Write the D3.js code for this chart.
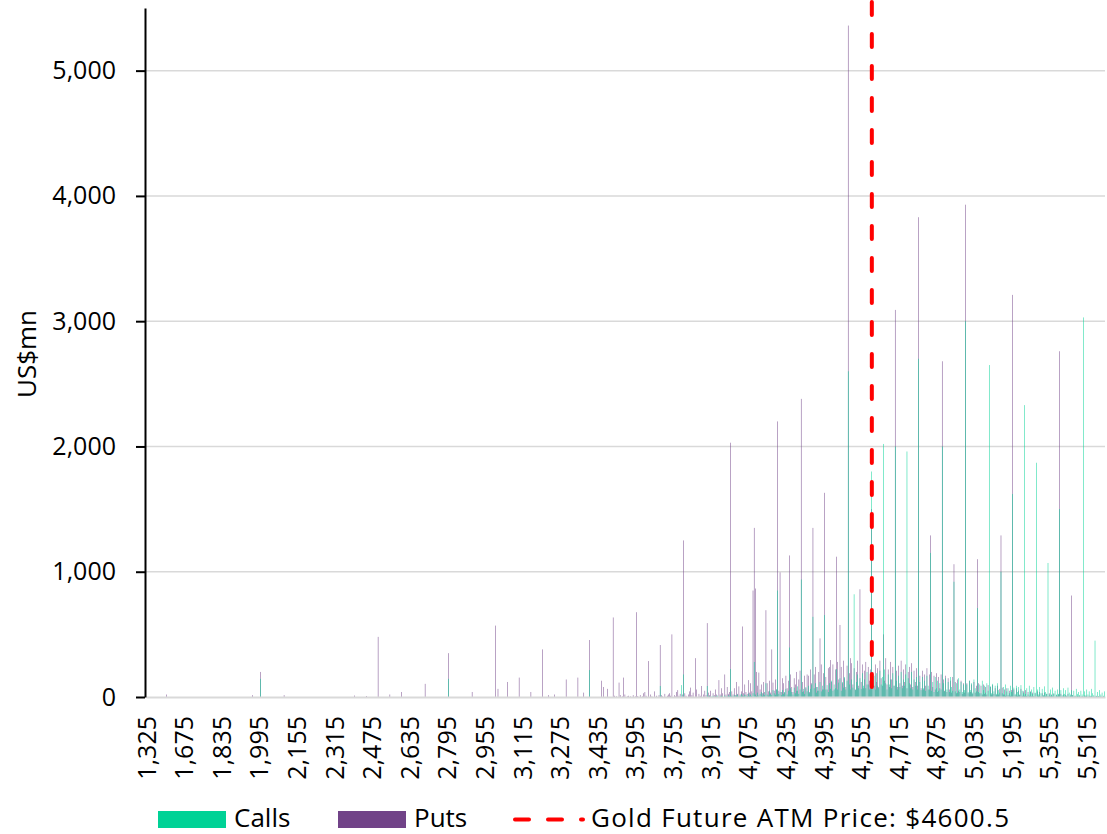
<!DOCTYPE html>
<html><head><meta charset="utf-8">
<script src="https://cdn.jsdelivr.net/npm/d3@7"></script>
<style>
body{margin:0;background:#fff;}
svg text{font-family:"Open Sans","Noto Sans",sans-serif;fill:#000;}
</style></head><body><svg id="c" width="1107" height="834"></svg>
<script>
// strikes (categories)
const lowStrikes = [1325,1350,1375,1400,1425,1450,1475,1500,1510,1520,1525,1550,1560,1570,1575,1580,1590,1600,1605,1610,1615,1620,1625,1630,1635,1640,1645,1650,1655,1660,1665,1670];
const gridStart = 1675, gridEnd = 5590, strikeStep = 5;
const strikes = lowStrikes.concat(d3.range(gridStart, gridEnd + 1, strikeStep));

// small values (US$mn) per 5-strike
const putsBaseStart = 3500;
const putsBase = [
0,10,0,5,0,8,15,0,5,0,20,0,5,10,0,5,0,15,0,5,
0,8,0,15,0,5,30,0,10,0,15,0,20,5,0,35,0,10,0,15,
0,15,5,0,25,0,10,20,0,10,30,0,15,5,40,0,10,25,0,20,
0,30,10,0,20,45,0,15,35,0,20,60,0,25,10,40,0,20,50,15,
0,35,15,50,0,25,15,60,20,0,40,20,70,30,0,45,20,80,25,40,
0,45,20,70,15,50,25,85,20,45,70,30,100,40,25,75,35,110,45,30,
0,55,25,90,30,60,100,30,120,40,70,110,45,130,35,80,115,50,140,60,
0,50,120,40,150,60,35,170,70,130,45,180,80,40,150,90,200,50,140,210,
0,120,45,170,70,200,90,40,220,110,60,180,240,80,50,210,100,260,60,190,
0,160,60,230,90,200,120,260,60,220,100,280,140,70,240,110,290,150,80,250,
0,190,80,270,100,230,60,200,290,90,220,120,260,70,210,280,100,240,130,220,
0,200,90,260,120,230,80,290,150,90,250,130,310,100,220,80,280,140,240,90,
0,210,80,250,110,290,90,220,120,260,70,200,240,100,270,80,210,120,230,90,
0,170,70,210,60,180,90,230,60,180,50,200,80,170,60,190,40,160,70,180,
0,140,50,170,40,150,60,130,35,160,45,120,30,140,50,40,130,25,110,35,
0,110,30,130,40,100,25,120,35,90,20,110,30,90,20,100,25,80,20,95,
0,80,20,95,25,70,15,90,20,65,15,75,20,60,10,70,15,50,10,55,
0,60,15,70,10,50,15,65,10,45,10,55,8,40,10,45,5,35,8,30,
0,45,8,40,5,30,10,35,5,25,8,30,5,20,5,25,3,15,5,20,
0,25,5,20,3,15,5,25,3,10,5,15,3,10,2,10,3,10,2,8,
0,12,3,10,2,10,3,8,2,5,3,8,2,5,2,5,1,4,2
];
const callsBaseStart = 3900;
const callsBase = [
0,3,8,0,5,10,0,6,3,12,0,6,10,3,0,12,6,3,15,6,
0,10,5,18,3,12,20,5,10,25,12,5,20,15,8,28,10,20,8,30,
0,20,8,35,12,25,40,10,30,15,45,20,12,50,25,15,55,30,18,60,
0,25,40,15,55,25,40,65,20,50,30,70,40,20,75,30,50,85,25,60,
0,40,65,25,80,45,90,30,65,100,40,70,110,35,80,50,120,45,90,60,
0,60,95,40,110,65,130,50,100,70,140,60,115,150,50,120,75,160,60,130,
0,100,60,140,75,160,55,120,180,70,150,65,190,90,140,70,200,100,60,160,
0,110,170,60,190,90,70,210,100,160,70,220,110,60,180,100,140,70,190,90,
0,130,60,170,80,200,70,140,90,180,60,150,110,70,200,60,140,90,160,60,
0,120,55,160,70,130,50,170,90,60,150,50,120,40,160,70,130,50,110,60,
0,110,45,150,60,120,40,160,80,50,140,45,110,35,150,60,120,40,100,55,
0,100,40,130,55,110,35,140,70,45,120,40,100,30,130,55,90,35,110,50,
0,85,30,105,45,90,25,110,55,35,95,30,80,20,100,45,70,30,90,40,
0,75,25,90,40,80,20,95,50,30,80,25,70,20,90,40,60,25,80,35,
0,60,20,80,30,65,15,85,40,25,65,20,60,15,75,30,50,20,60,25,
0,55,15,70,25,55,12,75,35,20,55,15,50,10,65,25,40,15,50,20,
0,45,12,60,20,45,10,65,30,15,45,10,40,8,55,20,35,10,45
];
// larger strikes: [strike, US$mn]
const putsMajor = [[1600,20],[1965,15],[2000,200],[2100,15],[2400,12],[2450,8],[2500,480],[2550,20],[2600,40],[2700,105],[2800,350],[2900,40],[3000,570],[3010,65],[3050,120],[3100,155],[3150,40],[3200,380],[3225,15],[3250,20],[3300,140],[3350,155],[3375,35],[3400,455],[3450,130],[3460,80],[3475,65],[3500,635],[3525,115],[3545,155],[3600,677],[3635,40],[3650,287],[3675,45],[3700,415],[3740,30],[3750,500],[3775,55],[3800,1250],[3830,75],[3850,310],[3875,88],[3900,590],[3925,30],[3950,135],[3975,180],[4000,2030],[4025,120],[4050,563],[4075,135],[4095,850],[4100,1350],[4105,866],[4110,200],[4120,195],[4150,693],[4175,380],[4200,2200],[4210,995],[4225,110],[4250,1130],[4275,100],[4300,2380],[4325,180],[4330,170],[4350,1350],[4375,200],[4380,468],[4400,1630],[4420,240],[4425,295],[4450,1120],[4465,575],[4500,5360],[4510,310],[4550,860],[4600,1500],[4650,500],[4700,3090],[4800,3830],[4850,1290],[4900,2680],[4950,1060],[5000,3930],[5050,1100],[5150,1290],[5200,3210],[5400,2760],[5450,810]];
const callsMajor = [[2000,145],[2800,145],[3400,215],[3700,88],[3790,95],[3800,180],[3900,88],[4000,223],[4100,280],[4150,110],[4200,850],[4250,395],[4300,938],[4350,640],[4400,654],[4450,223],[4500,2600],[4525,820],[4600,1800],[4650,2020],[4700,2000],[4750,1960],[4800,2700],[4850,1150],[4900,2000],[4950,920],[5000,3000],[5050,710],[5100,2650],[5150,1000],[5200,1620],[5250,2330],[5300,1870],[5350,1070],[5400,1500],[5500,3030],[5550,450]];

const yTicks = [0,1000,2000,3000,4000,5000];
const yMax = 5500;
const labelEvery = 32;
const atmPrice = 4600.5;
const legendItems = [{name:"Calls",color:"#00D296"},{name:"Puts",color:"#714388"}];
const atmLabel = "Gold Future ATM Price: $4600.5";

function buildSeries(base, baseStart, major){
  const m = new Map(major);
  return strikes.map(s => {
    if (m.has(s)) return m.get(s);
    if (s >= baseStart) { const i = (s - baseStart) / strikeStep; return base[i] || 0; }
    return 0;
  });
}
const putsVals = buildSeries(putsBase, putsBaseStart, putsMajor);
const callsVals = buildSeries(callsBase, callsBaseStart, callsMajor);

const svg = d3.select("#c");
const L = 146, R = 1105, T = 8, B = 697;
const x = d3.scaleBand().domain(strikes).range([L, R]).padding(0);
const y = d3.scaleLinear().domain([0, yMax]).range([B, T]);
const bw = x.bandwidth() * 0.42;

// gridlines
svg.append("g").selectAll("line").data(yTicks.filter(d=>d>0)).join("line")
  .attr("x1", L).attr("x2", R).attr("y1", d=>y(d)).attr("y2", d=>y(d))
  .attr("stroke", "#d9d9d9").attr("stroke-width", 1.5);

// bars
const gP = svg.append("g");
gP.selectAll("rect").data(strikes.map((s,i)=>({s, v:putsVals[i]})).filter(d=>d.v>0)).join("rect")
  .attr("x", d => x(d.s) + (x.bandwidth()-bw)/2).attr("width", bw)
  .attr("y", d => y(d.v)).attr("height", d => B - y(d.v)).attr("fill", legendItems[1].color);
const gC = svg.append("g");
gC.selectAll("rect").data(strikes.map((s,i)=>({s, v:callsVals[i]})).filter(d=>d.v>0)).join("rect")
  .attr("x", d => x(d.s) + (x.bandwidth()-bw)/2).attr("width", bw)
  .attr("y", d => y(d.v)).attr("height", d => B - y(d.v)).attr("fill", legendItems[0].color);

// x axis
const xAxis = d3.axisBottom(x).tickValues(strikes.filter((d,i)=>i%labelEvery===0)).tickFormat(d3.format(",")).tickSize(0);
const gx = svg.append("g").attr("transform", `translate(0,${B})`).call(xAxis);
gx.select(".domain").attr("stroke", "#d9d9d9").attr("stroke-width", 2);
gx.selectAll("text").attr("transform", "rotate(-90)").attr("text-anchor", "end")
  .attr("x", -19).attr("y", 0).attr("dy", "0.36em").style("font-size", "25px").style("font-family", '"Open Sans"');

// y axis
const yAxis = d3.axisLeft(y).tickValues(yTicks).tickFormat(d3.format(",")).tickSize(9).tickSizeOuter(0);
const gy = svg.append("g").attr("transform", `translate(${L-1},0)`).call(yAxis);
gy.select(".domain").attr("stroke", "#000").attr("stroke-width", 2);
gy.selectAll(".tick line").attr("stroke", "#000").attr("stroke-width", 2);
gy.selectAll("text").attr("x", -29).style("font-size", "25px").style("font-family", '"Open Sans"');

// y label
svg.append("text").attr("transform", "translate(36,354) rotate(-90)").attr("text-anchor", "middle")
  .style("font-size", "26px").text("US$mn");

// ATM line
const i0 = strikes.indexOf(4600), i1 = strikes.indexOf(4605);
const c0 = x(strikes[i0]) + x.bandwidth()/2, c1 = x(strikes[i1]) + x.bandwidth()/2;
const atmX = c0 + (atmPrice - 4600) / (4605 - 4600) * (c1 - c0);
svg.append("line").attr("x1", atmX).attr("x2", atmX).attr("y1", 2).attr("y2", B)
  .attr("stroke", "#FF0000").attr("stroke-width", 4).attr("stroke-dasharray", "13,19").attr("stroke-linecap", "round");

// legend
const lg = svg.append("g");
const lx = [158, 338];
legendItems.forEach((d, i) => {
  lg.append("rect").attr("x", lx[i]).attr("y", 811).attr("width", 68).attr("height", 17).attr("fill", d.color);
  lg.append("text").attr("x", lx[i] + 76).attr("y", 826.5).style("font-size", "26px").text(d.name);
});
lg.append("line").attr("x1", 515).attr("x2", 583).attr("y1", 819.5).attr("y2", 819.5)
  .attr("stroke", "#FF0000").attr("stroke-width", 4).attr("stroke-dasharray", "14,19").attr("stroke-linecap", "round");
lg.append("text").attr("x", 591).attr("y", 826.5).style("font-size", "26px")
  .attr("textLength", 418).attr("lengthAdjust", "spacing").text(atmLabel);
</script></body></html>
